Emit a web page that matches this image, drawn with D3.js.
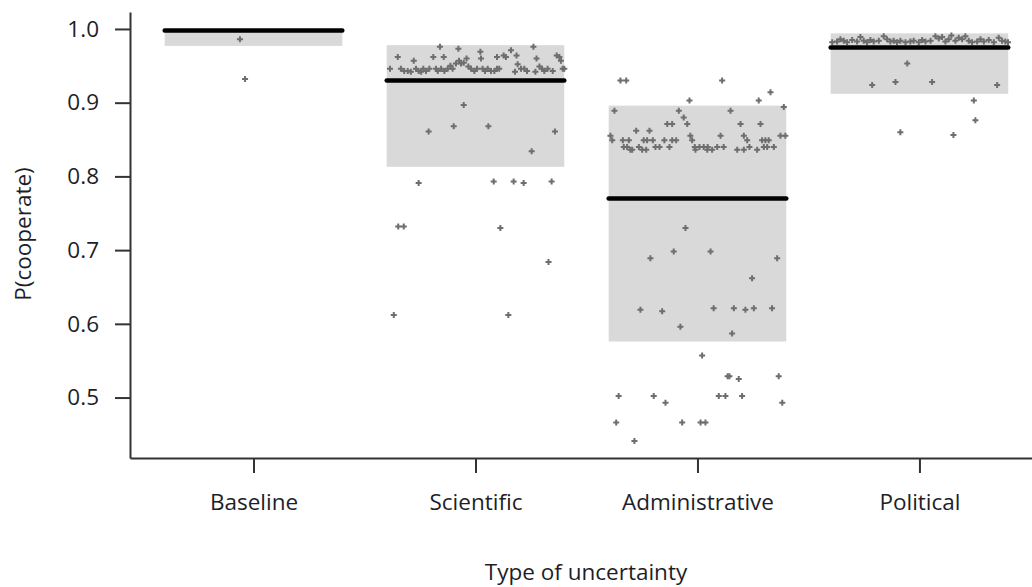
<!DOCTYPE html>
<html>
<head>
<meta charset="utf-8">
<script src="https://cdn.jsdelivr.net/npm/d3@7"></script>
<style>
  html, body { margin: 0; padding: 0; background: #fff; }
  svg { display: block; }
  text { font-family: "Open Sans", "Lato", sans-serif; fill: #1e1e28; }
</style>
</head>
<body>
<svg id="chart" width="1032" height="587"></svg>
<script>
// ---------------- data ----------------
const categories = ["Baseline", "Scientific", "Administrative", "Political"];
const medians   = [0.998, 0.930, 0.770, 0.975];
const boxLower  = [0.977, 0.813, 0.576, 0.912];
const boxUpper  = [1.000, 0.978, 0.896, 0.994];
const yTicks    = [0.5, 0.6, 0.7, 0.8, 0.9, 1.0];
const xLabel = "Type of uncertainty";
const yLabel = "P(cooperate)";

// points: [jitter within category, P(cooperate)]
const baselinePts = [[-0.061, 0.986], [-0.038, 0.932]];

const scientificPts = [
  [-0.385,0.946],[-0.350,0.962],[-0.336,0.946],[-0.321,0.943],[-0.305,0.943],[-0.291,0.942],
  [-0.278,0.957],[-0.268,0.946],[-0.256,0.943],[-0.245,0.942],[-0.235,0.946],[-0.223,0.943],
  [-0.208,0.946],[-0.190,0.962],[-0.178,0.946],[-0.170,0.943],[-0.160,0.976],[-0.155,0.946],
  [-0.143,0.962],[-0.140,0.943],[-0.125,0.946],[-0.113,0.950],[-0.103,0.946],[-0.088,0.953],
  [-0.077,0.973],[-0.074,0.957],[-0.065,0.953],[-0.053,0.954],[-0.040,0.960],[-0.032,0.949],
  [-0.020,0.946],[-0.005,0.943],[0.007,0.946],[0.022,0.969],[0.025,0.960],[0.032,0.946],
  [0.043,0.943],[0.055,0.946],[0.070,0.943],[0.085,0.943],[0.097,0.946],[0.107,0.946],
  [0.097,0.962],[0.127,0.964],[0.137,0.962],[0.160,0.971],[0.178,0.942],[0.185,0.964],
  [0.190,0.952],[0.205,0.946],[0.220,0.946],[0.232,0.943],[0.261,0.976],[0.270,0.942],
  [0.275,0.960],[0.288,0.949],[0.300,0.946],[0.310,0.943],[0.325,0.946],[0.348,0.943],
  [0.366,0.964],[0.378,0.962],[0.385,0.957],[0.393,0.946],[0.400,0.946],
  [-0.053,0.897],[-0.211,0.861],[-0.098,0.868],[0.058,0.868],[0.358,0.861],[0.253,0.834],
  [-0.256,0.791],[0.082,0.793],[0.172,0.793],[0.217,0.791],[0.343,0.793],
  [-0.348,0.732],[-0.323,0.732],[0.112,0.730],[0.329,0.684],
  [-0.368,0.612],[0.148,0.612]
];

const administrativePts = [
  [-0.347,0.930],[-0.321,0.930],[0.111,0.930],[0.329,0.914],[-0.036,0.903],[0.276,0.903],
  [-0.374,0.889],[-0.084,0.889],[0.149,0.889],[0.389,0.894],[-0.062,0.880],
  [-0.046,0.871],[-0.136,0.871],[-0.114,0.871],[0.194,0.871],[0.284,0.871],
  [-0.276,0.862],[-0.216,0.862],
  [-0.392,0.855],[-0.032,0.855],[0.104,0.855],[0.209,0.855],[0.374,0.855],[0.396,0.855],
  [-0.384,0.849],[-0.336,0.849],[-0.309,0.849],[-0.242,0.849],[-0.227,0.849],[-0.201,0.849],
  [-0.149,0.849],[-0.114,0.849],[-0.096,0.849],[-0.024,0.849],[0.224,0.849],[0.291,0.849],
  [0.306,0.849],[0.321,0.849],
  [-0.332,0.840],[-0.317,0.840],[-0.264,0.840],[-0.189,0.840],[-0.171,0.840],[-0.126,0.840],
  [-0.012,0.840],[0.009,0.840],[0.028,0.840],[0.046,0.840],[0.089,0.840],[0.118,0.840],
  [0.234,0.840],[0.299,0.840],[0.314,0.840],[0.344,0.840],
  [-0.302,0.836],[-0.294,0.836],[-0.249,0.836],[-0.231,0.836],[-0.009,0.836],[0.044,0.836],
  [0.066,0.836],[0.179,0.836],[0.209,0.836],[0.269,0.836],
  [-0.054,0.730],[-0.212,0.689],[-0.107,0.698],[0.059,0.698],[0.359,0.689],[0.246,0.662],
  [-0.257,0.619],[-0.159,0.617],[0.073,0.621],[0.164,0.621],[0.254,0.621],[0.336,0.621],
  [0.216,0.619],[-0.077,0.596],[0.156,0.587],
  [0.021,0.557],[0.136,0.529],[0.144,0.529],[0.186,0.525],[0.366,0.529],
  [-0.355,0.502],[-0.197,0.502],[0.096,0.502],[0.126,0.502],[0.201,0.502],
  [-0.144,0.493],[0.382,0.493],
  [-0.366,0.466],[-0.069,0.466],[0.014,0.466],[0.036,0.466],[-0.284,0.441]
];

const politicalPts = [
  [-0.393,0.982],[-0.371,0.983],[-0.356,0.986],[-0.341,0.984],[-0.326,0.982],[-0.303,0.985],
  [-0.281,0.983],[-0.266,0.989],[-0.251,0.984],[-0.236,0.982],[-0.221,0.985],[-0.206,0.983],
  [-0.183,0.984],[-0.161,0.990],[-0.146,0.986],[-0.131,0.983],[-0.116,0.984],[-0.101,0.982],
  [-0.086,0.984],[-0.063,0.982],[-0.041,0.983],[-0.026,0.984],[-0.003,0.982],[0.012,0.985],
  [0.027,0.983],[0.050,0.984],[0.072,0.990],[0.087,0.987],[0.102,0.989],[0.117,0.983],
  [0.132,0.986],[0.144,0.991],[0.162,0.984],[0.177,0.988],[0.192,0.986],[0.207,0.990],
  [0.222,0.984],[0.237,0.982],[0.260,0.983],[0.275,0.986],[0.290,0.983],[0.312,0.985],
  [0.335,0.982],[0.357,0.988],[0.372,0.984],[0.387,0.983],[0.399,0.982],
  [-0.055,0.953],[-0.213,0.924],[-0.108,0.928],[0.057,0.928],[0.350,0.924],
  [0.245,0.903],[0.252,0.876],[-0.086,0.860],[0.153,0.856]
];

const pointSets = [baselinePts, scientificPts, administrativePts, politicalPts];

// ---------------- chart ----------------
const svg = d3.select("#chart");

const x = d3.scaleLinear().domain([-0.5563, 3.507]).range([130, 1032]);
const y = d3.scaleLinear().domain([0.418, 1.023]).range([458, 12]);
const halfBox = 0.4;
const fontSize = 22.5;

const plot = svg.append("g");

// boxes (interval bands)
plot.selectAll("rect.band")
  .data(categories)
  .join("rect")
  .attr("class", "band")
  .attr("x", (d, i) => x(i - halfBox))
  .attr("width", (d, i) => x(i + halfBox) - x(i - halfBox))
  .attr("y", (d, i) => y(boxUpper[i]))
  .attr("height", (d, i) => y(boxLower[i]) - y(boxUpper[i]))
  .attr("fill", "#d9d9d9");

// points
const allPts = pointSets.flatMap((pts, i) => pts.map(p => ({ cat: i, j: p[0], v: p[1] })));
const sym = d3.symbol().type(d3.symbolCross).size(20);
plot.selectAll("path.pt")
  .data(allPts)
  .join("path")
  .attr("class", "pt")
  .attr("d", sym)
  .attr("transform", d => `translate(${x(d.cat + d.j)},${y(d.v)})`)
  .attr("fill", "#6e6e6e");

// medians
plot.selectAll("line.median")
  .data(categories)
  .join("line")
  .attr("class", "median")
  .attr("x1", (d, i) => x(i - halfBox))
  .attr("x2", (d, i) => x(i + halfBox))
  .attr("y1", (d, i) => y(medians[i]))
  .attr("y2", (d, i) => y(medians[i]))
  .attr("stroke", "#000")
  .attr("stroke-width", 4.5)
  .attr("stroke-linecap", "round");

// y axis
const yAxis = svg.append("g")
  .attr("transform", "translate(130,0)")
  .call(d3.axisLeft(y).tickValues(yTicks).tickSize(15).tickSizeOuter(0).tickPadding(16)
    .tickFormat(d3.format(".1f")));
yAxis.select(".domain").attr("stroke", "#333").attr("stroke-width", 2);
yAxis.selectAll(".tick line").attr("stroke", "#333").attr("stroke-width", 2);
yAxis.selectAll(".tick text").attr("font-size", fontSize).attr("font-family", null).attr("fill", "#1e1e28");

// x axis
const xAxis = svg.append("g")
  .attr("transform", "translate(0,458)")
  .call(d3.axisBottom(x).tickValues([0, 1, 2, 3]).tickSize(15).tickSizeOuter(0).tickPadding(21)
    .tickFormat(i => categories[i]));
xAxis.select(".domain").attr("stroke", "#333").attr("stroke-width", 2);
xAxis.selectAll(".tick line").attr("stroke", "#333").attr("stroke-width", 2);
xAxis.selectAll(".tick text").attr("font-size", fontSize).attr("font-family", null).attr("fill", "#1e1e28");

// axis titles
svg.append("text")
  .attr("x", 586).attr("y", 580)
  .attr("text-anchor", "middle")
  .attr("font-size", fontSize)
  .text(xLabel);

svg.append("text")
  .attr("transform", "translate(31,234) rotate(-90)")
  .attr("text-anchor", "middle")
  .attr("font-size", fontSize)
  .text(yLabel);
</script>
</body>
</html>
